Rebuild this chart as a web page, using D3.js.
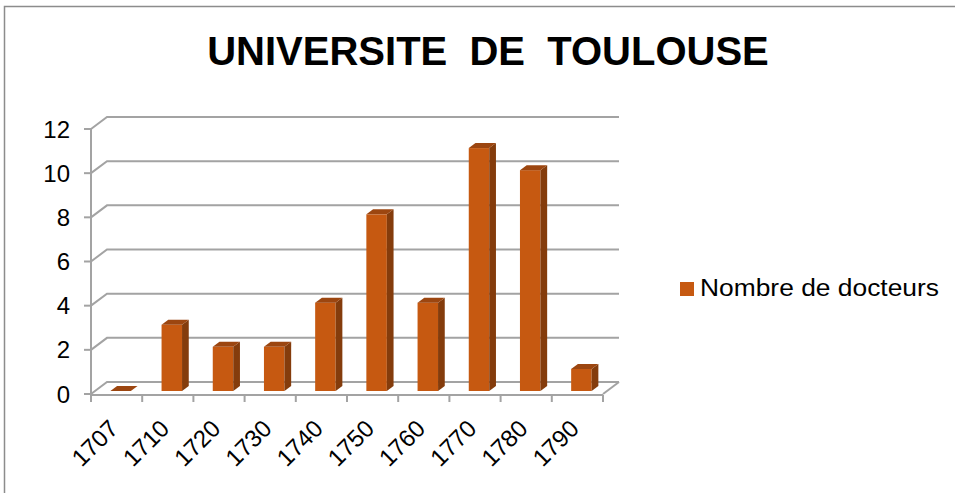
<!DOCTYPE html>
<html>
<head>
<meta charset="utf-8">
<script src="https://cdn.jsdelivr.net/npm/d3@7"></script>
<style>
  body { margin: 0; background: #fff; }
  svg { display: block; font-family: "Liberation Sans", Arial, sans-serif; }
</style>
</head>
<body>
<div id="chart"></div>
<script>
const categories = ["1707", "1710", "1720", "1730", "1740", "1750", "1760", "1770", "1780", "1790"];
const docteurs = [0, 3, 2, 2, 4, 8, 4, 11, 10, 1];
const yTicks = [0, 2, 4, 6, 8, 10, 12];
const seriesName = "Nombre de docteurs";
const title = "UNIVERSITE  DE  TOULOUSE";

const width = 955, height = 493;
// depth of the 3d box (back wall offset)
const DX = 16, DY = -12;
const f0 = 0.25, f1 = 0.67;   // bar front / back depth fractions

const svg = d3.select("#chart").append("svg")
    .attr("width", width)
    .attr("height", height);

// outer frame
svg.append("rect")
    .attr("x", 4.5).attr("y", 6.5)
    .attr("width", 1000).attr("height", 600)
    .attr("fill", "none")
    .attr("stroke", "#8c8c8c")
    .attr("stroke-width", 1.5);

// title
svg.append("text")
    .attr("x", 488).attr("y", 65)
    .attr("text-anchor", "middle")
    .attr("font-size", 40)
    .attr("font-weight", "bold")
    .attr("fill", "#000")
    .attr("xml:space", "preserve")
    .style("white-space", "pre")
    .text(title);

//scales
const x = d3.scaleBand()
    .domain(categories)
    .range([91, 603]);

const y = d3.scaleLinear()
    .domain([0, 12])
    .range([394, 129]);

const grid = svg.append("g").attr("class", "grid");
const gridColor = "#a3a3a3";

// gridlines: left wall diagonal + back wall line
yTicks.forEach(t => {
    const yy = y(t);
    grid.append("path")
        .attr("d", `M${x.range()[0]},${yy} L${x.range()[0] + DX},${yy + DY} L${x.range()[1] + DX},${yy + DY}`)
        .attr("fill", "none")
        .attr("stroke", gridColor)
        .attr("stroke-width", 2);
});

// floor right edge
grid.append("line")
    .attr("x1", x.range()[1]).attr("y1", y(0))
    .attr("x2", x.range()[1] + DX).attr("y2", y(0) + DY)
    .attr("stroke", gridColor).attr("stroke-width", 2);

// vertical axis
grid.append("line")
    .attr("x1", x.range()[0]).attr("y1", y(12) - 1)
    .attr("x2", x.range()[0]).attr("y2", y(0) + 1)
    .attr("stroke", gridColor).attr("stroke-width", 2);

// y ticks + labels
const yAxis = svg.append("g").attr("class", "y-axis");
yTicks.forEach(t => {
    yAxis.append("line")
        .attr("x1", x.range()[0] - 7).attr("x2", x.range()[0])
        .attr("y1", y(t)).attr("y2", y(t))
        .attr("stroke", gridColor).attr("stroke-width", 2);
    yAxis.append("text")
        .attr("x", 70).attr("y", y(t))
        .attr("dy", "0.36em")
        .attr("text-anchor", "end")
        .attr("font-size", 24)
        .attr("fill", "#000")
        .text(t);
});

// bars
const bw = x.bandwidth() * 0.4;
const d = f1 - f0;
const frontColor = "#c65911", sideColor = "#843c0c", topColor = "#9c4610";

const bars = svg.append("g").attr("class", "bars");
categories.forEach((c, i) => {
    const v = docteurs[i];
    const xc = x(c) + x.bandwidth() / 2;
    const xl = xc - bw / 2 + DX * f0;
    const xr = xc + bw / 2 + DX * f0;
    const yt = y(v) + DY * f0;
    const yb = y(0) + DY * f0;
    const g = bars.append("g");
    if (v > 0) {
        g.append("rect")
            .attr("x", xl).attr("y", yt)
            .attr("width", xr - xl).attr("height", yb - yt)
            .attr("fill", frontColor);
        g.append("path")
            .attr("d", `M${xr},${yt} L${xr + DX * d},${yt + DY * d} L${xr + DX * d},${yb + DY * d} L${xr},${yb} Z`)
            .attr("fill", sideColor);
    }
    g.append("path")
        .attr("d", `M${xl},${yt} L${xl + DX * d},${yt + DY * d} L${xr + DX * d},${yt + DY * d} L${xr},${yt} Z`)
        .attr("fill", topColor);
});

// x axis front edge
const xAxis = svg.append("g").attr("class", "x-axis");
xAxis.append("line")
    .attr("x1", x.range()[0]).attr("x2", x.range()[1])
    .attr("y1", y(0) + 1).attr("y2", y(0) + 1)
    .attr("stroke", gridColor).attr("stroke-width", 2);

const boundaries = categories.map(c => x(c)).concat([x.range()[1]]);
boundaries.forEach(bx => {
    xAxis.append("line")
        .attr("x1", bx).attr("x2", bx)
        .attr("y1", y(0) + 1).attr("y2", y(0) + 8)
        .attr("stroke", gridColor).attr("stroke-width", 2);
});

categories.forEach(c => {
    const xc = x(c) + x.bandwidth() / 2;
    xAxis.append("text")
        .attr("transform", `translate(${xc + 3},${430}) rotate(-45)`)
        .attr("text-anchor", "end")
        .attr("font-size", 24)
        .attr("fill", "#000")
        .text(c);
});

// legend
const legend = svg.append("g").attr("class", "legend");
legend.append("rect")
    .attr("x", 680).attr("y", 282)
    .attr("width", 14).attr("height", 14)
    .attr("fill", frontColor);
legend.append("text")
    .attr("x", 700).attr("y", 296)
    .attr("font-size", 23)
    .attr("textLength", 239)
    .attr("lengthAdjust", "spacingAndGlyphs")
    .attr("fill", "#000")
    .text(seriesName);
</script>
</body>
</html>
